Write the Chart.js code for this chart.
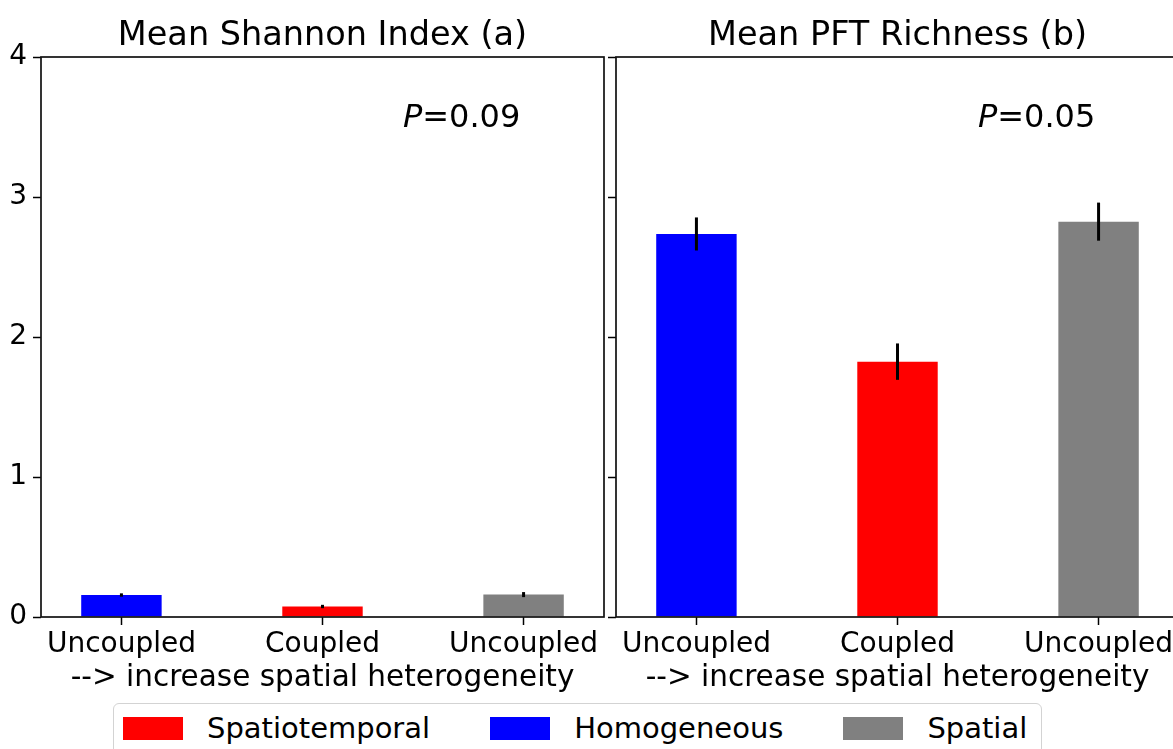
<!DOCTYPE html>
<html><head><meta charset="utf-8">
<script src="https://cdn.jsdelivr.net/npm/chart.js@4.4.1/dist/chart.umd.min.js"></script>
<style>
html,body{margin:0;padding:0;background:#fff;overflow:hidden;width:1173px;height:749px;}
#wrap{position:relative;width:1173px;height:749px;overflow:hidden;background:#fff;}
canvas.panel{position:absolute;top:0;}
#pA{left:0}
#pB{left:575px}
#legend{position:absolute;left:113px;top:703px;width:929px;height:60px;border:1.5px solid #d3d3d3;border-radius:6px;box-sizing:border-box;font-family:'DejaVu Sans';font-size:29px;color:#000;display:flex;align-items:flex-start;padding:12.5px 0 0 9px;}
.item{display:flex;align-items:center;height:23px;margin-right:60px;}
.sw{width:60px;height:23px;margin-right:24px;}
.lbl{line-height:23px;white-space:nowrap;}
</style></head>
<body>
<div id="wrap">
  <canvas id="pA" class="panel" width="610" height="700"></canvas>
  <canvas id="pB" class="panel" width="610" height="700"></canvas>
  <div id="legend"></div>
</div>
<script>
const FONT = "'DejaVu Sans'";
const categories = ['Uncoupled', 'Coupled', 'Uncoupled'];
const groupNames = ['Homogeneous', 'Spatiotemporal', 'Spatial'];
const barColors = ['#0000ff', '#ff0000', '#808080'];
const shannonMean = [0.157, 0.075, 0.160];
const shannonErr = [0.012, 0.012, 0.018];
const richnessMean = [2.736, 1.824, 2.824];
const richnessErr = [0.118, 0.130, 0.136];
const yTicks = [0, 1, 2, 3, 4];
const pValues = ['0.09', '0.05'];
const titles = ['Mean Shannon Index (a)', 'Mean PFT Richness (b)'];
const xLabel = '--> increase spatial heterogeneity';
const legendOrder = [1, 0, 2];

const framePlugin = {
  id: 'frame',
  afterDraw(chart) {
    const {ctx, chartArea: a} = chart;
    ctx.save();
    ctx.strokeStyle = '#111';
    ctx.lineWidth = 1.7;
    ctx.strokeRect(a.left, a.top, a.right - a.left, a.bottom - a.top);
    ctx.restore();
  }
};
const errPlugin = {
  id: 'errBars',
  afterDatasetsDraw(chart, args, opts) {
    const {ctx, scales: {x, y}} = chart;
    const ds = chart.data.datasets[0];
    ctx.save();
    ctx.strokeStyle = '#000';
    ctx.lineWidth = 3;
    ds.data.forEach((d, i) => {
      const e = opts.errors[i];
      const px = x.getPixelForValue(d.x);
      ctx.beginPath();
      ctx.moveTo(px, y.getPixelForValue(d.y - e));
      ctx.lineTo(px, y.getPixelForValue(d.y + e));
      ctx.stroke();
    });
    ctx.restore();
  }
};
const pPlugin = {
  id: 'pLabel',
  afterDraw(chart, args, opts) {
    const {ctx, scales: {x, y}} = chart;
    let px = x.getPixelForValue(opts.x);
    const py = y.getPixelForValue(opts.y);
    ctx.save();
    ctx.fillStyle = '#000';
    ctx.textBaseline = 'alphabetic';
    ctx.textAlign = 'left';
    ctx.font = 'italic 32px ' + FONT;
    ctx.fillText('P', px, py);
    px += ctx.measureText('P').width;
    ctx.font = '32px ' + FONT;
    ctx.fillText('=' + opts.text, px, py);
    ctx.restore();
  }
};

function makeChart(id, title, means, errs, pval, showY) {
  return new Chart(document.getElementById(id), {
    type: 'bar',
    data: {
      datasets: [{
        label: title,
        data: means.map((v, i) => ({x: i, y: v})),
        backgroundColor: barColors,
        borderWidth: 0,
        barPercentage: 0.4,
        categoryPercentage: 1
      }]
    },
    options: {
      responsive: false, animation: false, devicePixelRatio: 1,
      layout: {padding: {left: 0, right: 6, top: 0, bottom: 0}},
      plugins: {
        legend: {display: false},
        tooltip: {enabled: false},
        title: {display: true, text: title, fullSize: false, color: '#000',
          font: {family: FONT, size: 33.5, weight: 'normal'}, padding: {top: 16, bottom: 0.8}},
        errBars: {errors: errs},
        pLabel: {text: pval, x: 1.4, y: 3.5}
      },
      scales: {
        x: {
          type: 'linear', min: -0.4, max: 2.4, offset: false,
          afterBuildTicks: ax => { ax.ticks = categories.map((c, i) => ({value: i})); },
          afterFit: ax => { ax.height = 83; },
          ticks: {callback: v => categories[v], autoSkip: false, maxRotation: 0, padding: 3,
            font: {family: FONT, size: 28}, color: '#000'},
          grid: {offset: false, drawOnChartArea: false, drawTicks: true, tickLength: 8, tickColor: '#000', tickWidth: 1.5},
          border: {display: false},
          title: {display: true, text: xLabel, color: '#000', font: {family: FONT, size: 29.5}, padding: {top: 0, bottom: 4}}
        },
        y: {
          min: 0, max: 4,
          afterBuildTicks: ax => { ax.ticks = yTicks.map(v => ({value: v})); },
          afterFit: ax => { ax.width = 41; },
          ticks: {callback: v => showY ? String(v) : '', padding: 6, font: {family: FONT, size: 28}, color: '#000'},
          grid: {drawOnChartArea: false, drawTicks: true, tickLength: 8, tickColor: '#000', tickWidth: 1.5},
          border: {display: false}
        }
      }
    },
    plugins: [errPlugin, framePlugin, pPlugin]
  });
}

makeChart('pA', titles[0], shannonMean, shannonErr, pValues[0], true);
makeChart('pB', titles[1], richnessMean, richnessErr, pValues[1], false);

const leg = document.getElementById('legend');
legendOrder.forEach(i => {
  const it = document.createElement('div');
  it.className = 'item';
  const sw = document.createElement('div');
  sw.className = 'sw';
  sw.style.background = barColors[i];
  const lb = document.createElement('span');
  lb.className = 'lbl';
  lb.textContent = groupNames[i];
  it.appendChild(sw); it.appendChild(lb);
  leg.appendChild(it);
});
</script>
</body></html>
